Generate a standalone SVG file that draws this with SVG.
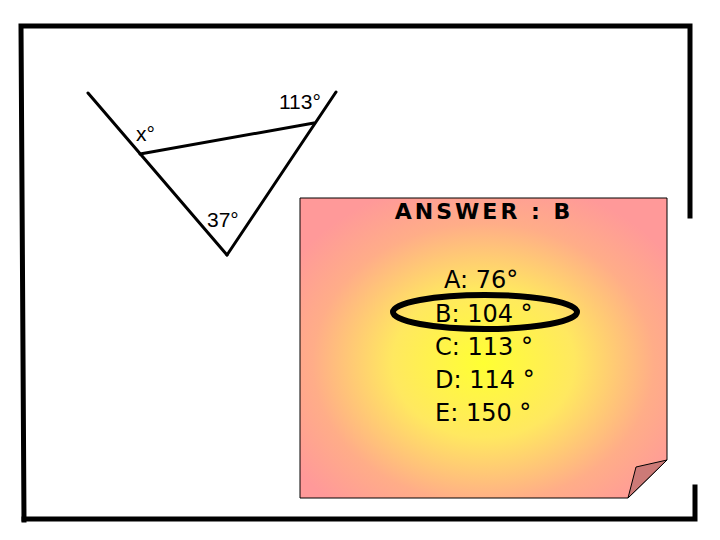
<svg xmlns="http://www.w3.org/2000/svg" width="720" height="540" viewBox="0 0 720 540">
<style>
.frame{stroke:#000;stroke-width:5;fill:none;stroke-linecap:square}
.geo{stroke:#000;stroke-width:3;fill:none;stroke-linecap:round}
.lbl{font-family:"Liberation Sans",Arial,sans-serif;font-size:21px;fill:#000}
.opt{font-family:"DejaVu Sans",sans-serif;font-size:24px;fill:#000}
</style>
<defs>
<radialGradient id="g" cx="0.5" cy="0.55" r="0.62">
<stop offset="0" stop-color="#ffff33"/>
<stop offset="0.4" stop-color="#ffe860"/>
<stop offset="0.75" stop-color="#ffad88"/>
<stop offset="1" stop-color="#ff9999"/>
</radialGradient>
</defs>
<rect width="720" height="540" fill="#fff"/>
<g id="frame">
<polyline class="frame" points="24,520 21,26 690,26 690,216"/>
<polyline class="frame" points="24,519 695,519 695,487"/>
</g>
<g id="triangle">
<line class="geo" x1="88" y1="93" x2="227" y2="255"/>
<line class="geo" x1="227" y1="255" x2="336" y2="92"/>
<line class="geo" x1="140" y1="154" x2="314" y2="123"/>
<text class="lbl" x="279" y="109">113°</text>
<text class="lbl" x="136" y="141">x°</text>
<text class="lbl" x="207" y="227">37°</text>
</g>
<g id="note">
<polygon points="300,198 667,198 667,460 628,498 300,498" fill="url(#g)" stroke="#000" stroke-width="1"/>
<polygon points="667,460 636,467 628,498" fill="#cc7a77" stroke="#000" stroke-width="1"/>
<text x="484" y="219" text-anchor="middle" font-family="DejaVu Sans,sans-serif" font-weight="bold" font-size="22" letter-spacing="3">ANSWER : B</text>
<text class="opt" x="444" y="288">A: 76°</text>
<text class="opt" x="435" y="322">B: 104 °</text>
<text class="opt" x="435" y="355">C: 113 °</text>
<text class="opt" x="435" y="388">D: 114 °</text>
<text class="opt" x="435" y="421">E: 150 °</text>
<ellipse cx="485" cy="312" rx="92" ry="17" fill="none" stroke="#000" stroke-width="6"/>
</g>
</svg>
